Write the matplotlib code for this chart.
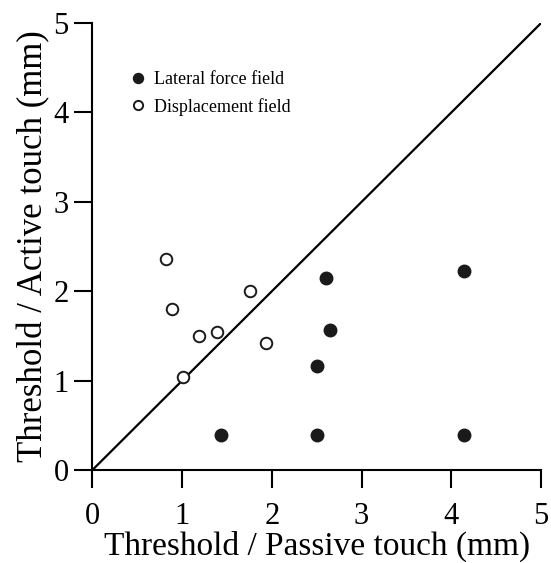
import matplotlib.pyplot as plt
import numpy as np

plt.rcParams['font.family'] = ['Liberation Serif', 'DejaVu Serif']

# Lateral force field (filled)
lat_x = [2.60, 2.65, 2.50, 1.43, 2.50, 4.14, 4.14]
lat_y = [2.15, 1.57, 1.17, 0.39, 0.39, 2.23, 0.39]
# Displacement field (open)
dis_x = [0.82, 0.885, 1.19, 1.39, 1.76, 1.93, 1.01]
dis_y = [2.36, 1.80, 1.50, 1.55, 2.00, 1.42, 1.04]

ticks = [0, 1, 2, 3, 4, 5]

fig = plt.figure(figsize=(5.51, 5.63), dpi=100)
ax = fig.add_axes([0.1675, 0.165, 0.8145, 0.794])

ax.plot([0, 5], [0, 5], color='black', lw=1.6, zorder=1)
ax.plot(lat_x, lat_y, 'o', ms=9, mfc='#1a1a1a', mec='#1a1a1a',
        ls='none', label='Lateral force field', zorder=3)
ax.plot(dis_x, dis_y, 'o', ms=8.3, mfc='white', mec='#1a1a1a', mew=1.4,
        ls='none', label='Displacement field', zorder=3)

ax.set_xlim(0, 5)
ax.set_ylim(0, 5)
ax.set_xticks(ticks)
ax.set_yticks(ticks)
for s in ['top', 'right']:
    ax.spines[s].set_visible(False)
for s in ['left', 'bottom']:
    ax.spines[s].set_linewidth(1.5)
ax.tick_params(direction='out', length=13, width=1.5, labelsize=22)
ax.tick_params(axis='x', pad=10)
ax.tick_params(axis='y', pad=4)

ax.set_xlabel('Threshold / Passive touch (mm)', fontsize=24, labelpad=0)
ax.set_ylabel('Threshold / Active touch (mm)', fontsize=25, labelpad=2)

ax.legend(loc='upper left', bbox_to_anchor=(0.065, 0.909), frameon=False,
          fontsize=13, handlelength=1.0, handletextpad=0.4, labelspacing=0.55,
          borderaxespad=0, markerscale=0.8)

plt.savefig('out.png', dpi=100)
